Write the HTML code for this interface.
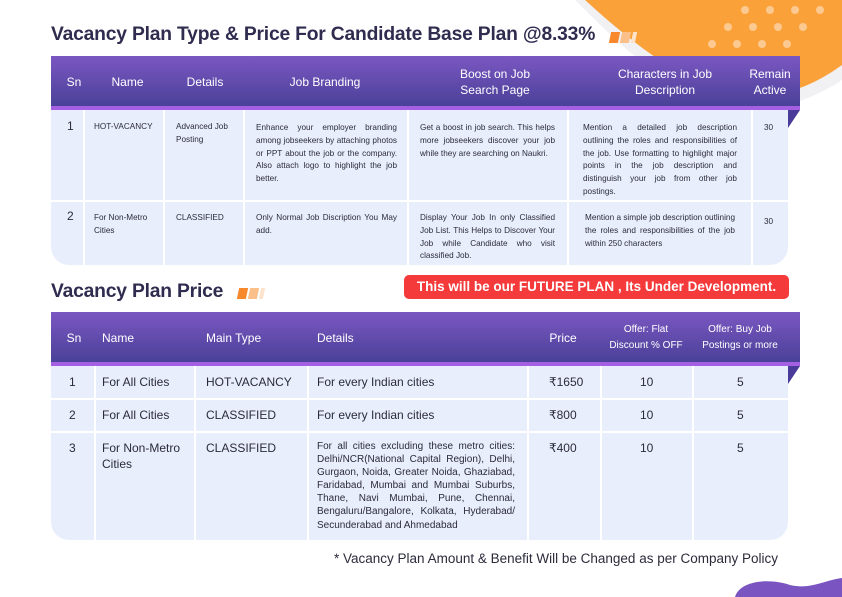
<!DOCTYPE html>
<html><head><meta charset="utf-8"><style>
*{margin:0;padding:0;box-sizing:border-box}
body{width:842px;height:597px;background:#fff;position:relative;overflow:hidden;font-family:"Liberation Sans",sans-serif;color:#2b2b3b}
.abs{position:absolute}
.title{font-weight:bold;color:#2f2c4f;font-size:19.3px;letter-spacing:-0.2px}
.hdr{background:linear-gradient(#7b57c2,#4a4198);color:#fff}
.hl{position:absolute;color:#fff;font-size:12px;text-align:center;line-height:16px}
.body{background:#e9eefc}
.vs{position:absolute;width:2px;background:#fff}
.t{position:absolute;font-size:8.2px;line-height:12.8px;color:#2b2b3b}
.j{text-align:justify}
.t2{position:absolute;font-size:12px;line-height:16px;color:#2b2b3b}
.d2{font-size:10px;line-height:13.1px;text-align:justify}
.marks span{display:inline-block;width:9px;height:11px;margin-right:2px;transform:skewX(-12deg)}
</style></head><body>
<svg class="abs" style="left:0;top:0" width="842" height="597">
<path d="M575 0 C610 35 650 75 700 100 C750 118 800 108 842 80 L842 0 Z" fill="#f1f1f3"/>
<path d="M585 0 C620 32 660 65 710 90 C760 106 805 92 842 65 L842 0 Z" fill="#fba13a"/>
<g fill="#fdd0a0" opacity="0.85">
<circle cx="745" cy="10" r="4"/><circle cx="770" cy="10" r="4"/><circle cx="795" cy="10" r="4"/><circle cx="820" cy="10" r="4"/>
<circle cx="728" cy="27" r="4"/><circle cx="753" cy="27" r="4"/><circle cx="778" cy="27" r="4"/><circle cx="803" cy="27" r="4"/>
<circle cx="712" cy="44" r="4"/><circle cx="737" cy="44" r="4"/><circle cx="762" cy="44" r="4"/><circle cx="787" cy="44" r="4"/>
</g>
<path d="M735 597 C740 580 770 578 790 585 C810 590 825 580 842 578 L842 597 Z" fill="#7a55c2"/>
</svg>
<div class="abs title" style="left:51px;top:24px">Vacancy Plan Type &amp; Price For Candidate Base Plan @8.33%</div>
<div class="abs marks" style="left:610px;top:30px"><span style="background:#f7882c"></span><span style="background:#fbc08a"></span><span style="background:#fde3cc;width:4px"></span></div>

<div class="abs hdr" style="left:51px;top:56px;width:749px;height:50px"></div>
<div class="abs" style="left:51px;top:106px;width:749px;height:4px;background:#a55fe2"></div>
<svg class="abs" style="left:788px;top:110px" width="12" height="18"><path d="M0 0 L12 0 L0 18 Z" fill="#4a3a9a"/></svg>
<div class="abs body" style="left:51px;top:110px;width:737px;height:155px;border-radius:0 0 18px 18px"></div>
<div class="vs" style="left:83px;top:110px;height:155px"></div>
<div class="vs" style="left:163px;top:110px;height:155px"></div>
<div class="vs" style="left:243px;top:110px;height:155px"></div>
<div class="vs" style="left:407px;top:110px;height:155px"></div>
<div class="vs" style="left:567px;top:110px;height:155px"></div>
<div class="vs" style="left:751px;top:110px;height:155px"></div>
<div class="abs" style="left:51px;top:200px;width:737px;height:2px;background:#fff"></div>

<div class="hl" style="left:51px;top:74px;width:46px">Sn</div>
<div class="hl" style="left:100px;top:74px;width:55px">Name</div>
<div class="hl" style="left:175px;top:74px;width:60px">Details</div>
<div class="hl" style="left:270px;top:74px;width:110px">Job Branding</div>
<div class="hl" style="left:440px;top:66px;width:110px">Boost on Job<br>Search Page</div>
<div class="hl" style="left:600px;top:66px;width:130px">Characters in Job<br>Description</div>
<div class="hl" style="left:745px;top:66px;width:50px">Remain<br>Active</div>

<div class="t" style="left:67px;top:120px;font-size:12px">1</div>
<div class="t" style="left:94px;top:121px">HOT-VACANCY</div>
<div class="t" style="left:176px;top:121px">Advanced Job<br>Posting</div>
<div class="t j" style="left:256px;top:122px;width:141px">Enhance your employer branding among jobseekers by attaching photos or PPT about the job or the company. Also attach logo to highlight the job better.</div>
<div class="t j" style="left:420px;top:122px;width:135px">Get a boost in job search. This helps more jobseekers discover your job while they are searching on Naukri.</div>
<div class="t j" style="left:583px;top:122px;width:154px">Mention a detailed job description outlining the roles and responsibilities of the job. Use formatting to highlight major points in the job description and distinguish your job from other job postings.</div>
<div class="t" style="left:764px;top:122px">30</div>

<div class="t" style="left:67px;top:210px;font-size:12px">2</div>
<div class="t" style="left:94px;top:212px">For Non-Metro<br>Cities</div>
<div class="t" style="left:176px;top:212px">CLASSIFIED</div>
<div class="t j" style="left:256px;top:212px;width:141px">Only Normal Job Discription You May add.</div>
<div class="t j" style="left:420px;top:212px;width:135px">Display Your Job In only Classified Job List. This Helps to Discover Your Job while Candidate who visit classified Job.</div>
<div class="t j" style="left:585px;top:212px;width:150px">Mention a simple job description outlining the roles and responsibilities of the job within 250 characters</div>
<div class="t" style="left:764px;top:216px">30</div>

<div class="abs title" style="left:51px;top:281px">Vacancy Plan Price</div>
<div class="abs marks" style="left:238px;top:286px"><span style="background:#f7882c"></span><span style="background:#fbc08a"></span><span style="background:#fde3cc;width:4px"></span></div>
<div class="abs" style="left:404px;top:275px;width:385px;height:24px;background:#f43a3a;border-radius:5px;color:#fff;font-weight:bold;font-size:13.5px;line-height:24px;text-align:center">This will be our FUTURE PLAN , Its Under Development.</div>

<div class="abs hdr" style="left:51px;top:312px;width:749px;height:50px"></div>
<div class="abs" style="left:51px;top:362px;width:749px;height:4px;background:#a55fe2"></div>
<svg class="abs" style="left:788px;top:366px" width="12" height="18"><path d="M0 0 L12 0 L0 18 Z" fill="#4a3a9a"/></svg>
<div class="abs body" style="left:51px;top:366px;width:737px;height:174px;border-radius:0 0 18px 18px"></div>
<div class="vs" style="left:94px;top:366px;height:174px"></div>
<div class="vs" style="left:194px;top:366px;height:174px"></div>
<div class="vs" style="left:307px;top:366px;height:174px"></div>
<div class="vs" style="left:527px;top:366px;height:174px"></div>
<div class="vs" style="left:600px;top:366px;height:174px"></div>
<div class="vs" style="left:692px;top:366px;height:174px"></div>
<div class="abs" style="left:51px;top:398px;width:737px;height:2px;background:#fff"></div>
<div class="abs" style="left:51px;top:431px;width:737px;height:2px;background:#fff"></div>

<div class="hl" style="left:51px;top:330px;width:46px">Sn</div>
<div class="hl" style="left:102px;top:330px;text-align:left">Name</div>
<div class="hl" style="left:206px;top:330px;text-align:left">Main Type</div>
<div class="hl" style="left:317px;top:330px;text-align:left">Details</div>
<div class="hl" style="left:540px;top:330px;width:46px">Price</div>
<div class="hl" style="left:600px;top:322px;width:92px;font-size:10px;line-height:16px">Offer: Flat<br>Discount % OFF</div>
<div class="hl" style="left:692px;top:322px;width:96px;font-size:10px;line-height:16px">Offer: Buy Job<br>Postings or more</div>

<div class="t2" style="left:69px;top:374px">1</div>
<div class="t2" style="left:102px;top:374px">For All Cities</div>
<div class="t2" style="left:206px;top:374px">HOT-VACANCY</div>
<div class="t2" style="left:317px;top:374px">For every Indian cities</div>
<div class="t2" style="left:549px;top:374px">₹1650</div>
<div class="t2" style="left:640px;top:374px">10</div>
<div class="t2" style="left:737px;top:374px">5</div>

<div class="t2" style="left:69px;top:407px">2</div>
<div class="t2" style="left:102px;top:407px">For All Cities</div>
<div class="t2" style="left:206px;top:407px">CLASSIFIED</div>
<div class="t2" style="left:317px;top:407px">For every Indian cities</div>
<div class="t2" style="left:549px;top:407px">₹800</div>
<div class="t2" style="left:640px;top:407px">10</div>
<div class="t2" style="left:737px;top:407px">5</div>

<div class="t2" style="left:69px;top:440px">3</div>
<div class="t2" style="left:102px;top:440px">For Non-Metro<br>Cities</div>
<div class="t2" style="left:206px;top:440px">CLASSIFIED</div>
<div class="t2 d2" style="left:317px;top:440px;width:198px">For all cities excluding these metro cities: Delhi/NCR(National Capital Region), Delhi, Gurgaon, Noida, Greater Noida, Ghaziabad, Faridabad, Mumbai and Mumbai Suburbs, Thane, Navi Mumbai, Pune, Chennai, Bengaluru/Bangalore, Kolkata, Hyderabad/ Secunderabad and Ahmedabad</div>
<div class="t2" style="left:549px;top:440px">₹400</div>
<div class="t2" style="left:640px;top:440px">10</div>
<div class="t2" style="left:737px;top:440px">5</div>

<div class="abs" style="right:64px;top:551px;font-size:13.5px;color:#2b2b3b">* Vacancy Plan Amount &amp; Benefit Will be Changed as per Company Policy</div>
</body></html>
